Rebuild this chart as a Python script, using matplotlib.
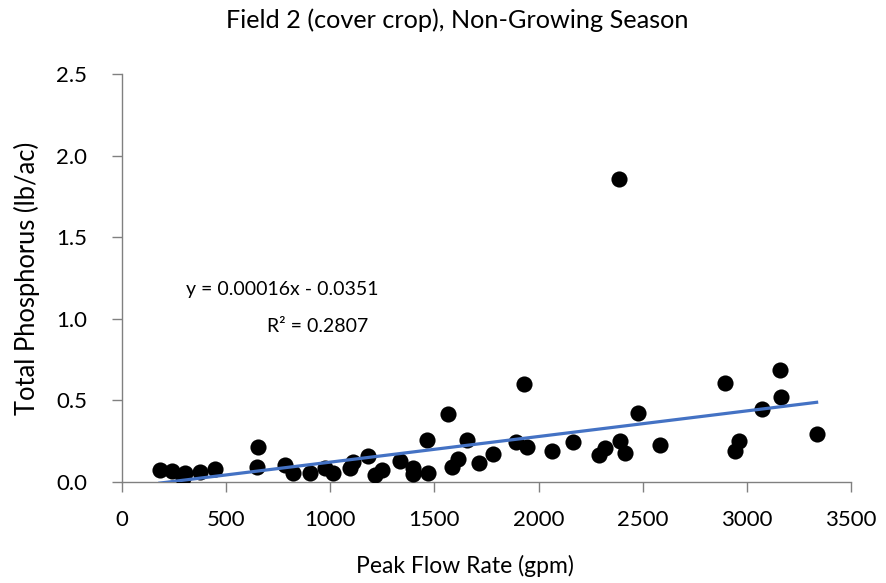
import numpy as np
import matplotlib.pyplot as plt

# Peak flow rate (gpm) and total phosphorus (lb/ac)
flow = [182, 239, 293, 302, 374, 446, 653, 648, 783, 821, 903, 975, 1013,
        1095, 1109, 1181, 1215, 1247, 1335, 1395, 1398, 1468, 1466, 1567,
        1583, 1615, 1658, 1714, 1783, 1890, 1943, 1930, 2063, 2164, 2292,
        2319, 2391, 2415, 2386, 2479, 2583, 2895, 2964, 2943, 3074, 3159,
        3162, 3335]
phos = [0.074, 0.067, 0.025, 0.055, 0.061, 0.080, 0.214, 0.092, 0.104, 0.055,
        0.055, 0.086, 0.055, 0.086, 0.123, 0.159, 0.043, 0.074, 0.130, 0.084,
        0.049, 0.053, 0.260, 0.417, 0.090, 0.139, 0.260, 0.114, 0.171, 0.247,
        0.212, 0.600, 0.190, 0.243, 0.165, 0.206, 0.251, 0.180, 1.857, 0.425,
        0.227, 0.605, 0.251, 0.190, 0.445, 0.686, 0.523, 0.292]

# linear trendline as reported on the chart
slope = 0.000157
intercept = -0.0351
eq_text = "y = 0.00016x - 0.0351"
r2_text = "R² = 0.2807"

plt.rcParams["font.family"] = ["Lato", "DejaVu Sans"]

fig = plt.figure(figsize=(8.87, 5.83), dpi=100)
ax = fig.add_axes([0.1375, 0.1732, 0.8219, 0.6998])

ax.scatter(flow, phos, s=135, color="black", zorder=3, linewidths=0)

xs = np.array([min(flow), max(flow)])
ax.plot(xs, slope * xs + intercept, color="#4472C4", lw=2.3, zorder=4)

ax.text(768, 1.18, eq_text, ha="center", va="center", fontsize=14)
ax.text(941, 0.95, r2_text, ha="center", va="center", fontsize=14)

ax.set_xlim(0, 3500)
ax.set_ylim(0, 2.5)
ax.set_xticks(np.arange(0, 3501, 500))
ax.set_yticks(np.arange(0, 2.51, 0.5))
ax.yaxis.set_major_formatter(plt.FormatStrFormatter("%.1f"))

for s in ["top", "right"]:
    ax.spines[s].set_visible(False)
for s in ["left", "bottom"]:
    ax.spines[s].set_color("#808080")
    ax.spines[s].set_linewidth(1.0)
ax.tick_params(axis="both", labelsize=16, color="#808080", length=7, width=1.0)
ax.tick_params(axis="x", pad=13)
ax.tick_params(axis="y", pad=18)

ax.set_xlabel("Peak Flow Rate (gpm)", fontsize=16.5)
ax.xaxis.set_label_coords(0.47, -0.178)
ax.set_ylabel("Total Phosphorus (lb/ac)", fontsize=18.4, labelpad=12)
fig.suptitle("Field 2 (cover crop), Non-Growing Season", fontsize=18.2,
             x=0.516, y=0.985)

plt.savefig("out.png", dpi=100)
